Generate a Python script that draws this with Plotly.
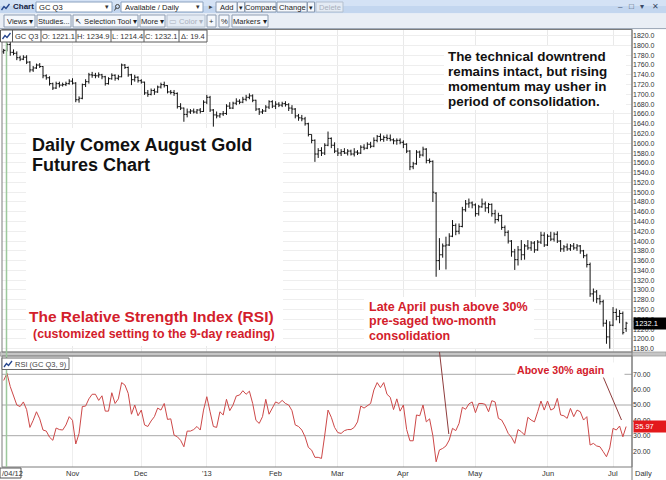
import plotly.graph_objects as go

W, H = 666, 480
FONT = "Liberation Sans, Arial, sans-serif"

# ---------------- data ----------------
opens = [1787,1790,1802,1786,1784,1775,1772,1776,1766,1750,
         1754,1760,1757,1738,1734,1722,1713,1722,1719,1720,
         1722,1727,1723,1689,1692,1720,1726,1740,1739,1738,
         1740,1736,1722,1732,1739,1733,1736,1760,1755,1740,
         1730,1735,1728,1725,1703,1700,1708,1705,1715,1720,
         1718,1705,1704,1702,1675,1672,1659,1664,1666,1664,
         1668,1665,1684,1694,1668,1658,1656,1660,1661,1676,
         1672,1682,1686,1684,1690,1694,1697,1688,1670,1664,
         1666,1674,1685,1676,1680,1678,1681,1679,1672,1670,
         1656,1652,1650,1640,1618,1606,1578,1585,1580,1596,
         1610,1596,1584,1580,1583,1580,1584,1578,1582,1580,
         1592,1590,1598,1594,1606,1614,1608,1612,1610,1607,
         1605,1606,1602,1598,1584,1552,1558,1582,1576,1588,
         1565,1563,1498,1360,1372,1390,1392,1410,1432,1420,
         1430,1464,1476,1478,1474,1456,1470,1476,1468,1475,
         1456,1444,1452,1428,1418,1400,1378,1362,1382,1372,
         1390,1386,1396,1382,1398,1412,1392,1410,1404,1414,
         1400,1384,1388,1384,1390,1386,1390,1380,1370,1352,
         1292,1296,1282,1276,1232,1204,1228,1254,1246,1252,
         1221.1]
highs = [1793,1806,1808,1792,1788,1779,1780,1780,1768,1758,
         1763,1764,1758,1741,1737,1724,1726,1726,1724,1726,
         1731,1733,1725,1696,1722,1731,1744,1746,1744,1745,
         1742,1738,1735,1743,1741,1740,1763,1762,1757,1742,
         1740,1737,1731,1726,1709,1712,1712,1718,1724,1726,
         1719,1709,1709,1704,1682,1673,1671,1670,1671,1670,
         1672,1688,1699,1697,1670,1665,1662,1666,1680,1684,
         1685,1692,1690,1695,1699,1702,1700,1689,1672,1670,
         1678,1688,1688,1686,1684,1685,1686,1682,1678,1672,
         1660,1658,1654,1642,1618,1608,1590,1592,1600,1624,
         1612,1602,1590,1588,1590,1588,1587,1590,1586,1596,
         1598,1602,1603,1612,1617,1620,1616,1618,1618,1610,
         1610,1610,1606,1600,1586,1562,1586,1585,1593,1590,
         1569,1565,1500,1406,1395,1409,1416,1443,1436,1436,
         1470,1484,1487,1481,1477,1474,1487,1481,1478,1477,
         1464,1458,1454,1432,1422,1402,1384,1390,1402,1394,
         1402,1400,1400,1402,1419,1418,1414,1419,1418,1420,
         1402,1392,1395,1394,1396,1394,1392,1382,1374,1356,
         1303,1300,1290,1280,1239,1236,1265,1262,1259,1256,
         1234.9]
lows = [1783,1788,1779,1780,1770,1768,1770,1762,1745,1746,
        1752,1754,1733,1730,1718,1709,1711,1714,1716,1717,
        1720,1720,1684,1683,1690,1715,1722,1734,1733,1734,
        1731,1718,1720,1730,1728,1729,1735,1752,1736,1719,
        1726,1724,1722,1699,1695,1698,1699,1703,1712,1714,
        1702,1700,1697,1671,1668,1644,1653,1660,1661,1660,
        1661,1664,1680,1664,1634,1651,1652,1656,1658,1670,
        1670,1678,1680,1682,1686,1690,1684,1666,1658,1660,
        1664,1670,1672,1670,1674,1674,1675,1666,1660,1651,
        1646,1645,1636,1614,1600,1562,1570,1574,1576,1594,
        1590,1580,1574,1574,1578,1575,1575,1573,1576,1578,
        1586,1588,1590,1592,1602,1604,1603,1605,1604,1598,
        1597,1598,1590,1580,1545,1547,1556,1570,1573,1559,
        1559,1480,1327,1341,1366,1342,1390,1408,1412,1414,
        1428,1460,1468,1467,1450,1452,1468,1460,1457,1450,
        1436,1440,1423,1410,1395,1368,1341,1350,1361,1362,
        1382,1380,1376,1380,1394,1388,1390,1400,1399,1396,
        1378,1378,1380,1380,1382,1380,1374,1365,1346,1286,
        1276,1273,1270,1225,1190,1180,1226,1238,1232,1209,
        1214.4]
closes = [1790,1802,1786,1784,1775,1772,1776,1766,1750,1754,
          1760,1757,1738,1734,1722,1713,1722,1719,1720,1722,
          1727,1723,1689,1692,1720,1726,1740,1739,1738,1740,
          1736,1722,1732,1739,1733,1736,1760,1755,1740,1730,
          1735,1728,1725,1703,1700,1708,1705,1715,1720,1718,
          1705,1704,1702,1675,1672,1659,1664,1666,1664,1668,
          1665,1684,1694,1668,1658,1656,1660,1661,1676,1672,
          1682,1686,1684,1690,1694,1697,1688,1670,1664,1666,
          1674,1685,1676,1680,1678,1681,1679,1672,1670,1656,
          1652,1650,1640,1618,1606,1578,1585,1580,1596,1610,
          1596,1584,1580,1583,1580,1584,1578,1582,1580,1592,
          1590,1598,1594,1606,1614,1608,1612,1610,1607,1605,
          1606,1602,1598,1584,1552,1558,1582,1576,1588,1565,
          1563,1500,1360,1372,1390,1392,1410,1432,1420,1430,
          1464,1476,1478,1474,1456,1470,1476,1468,1475,1456,
          1444,1452,1428,1418,1400,1378,1362,1382,1372,1390,
          1386,1396,1382,1398,1412,1392,1410,1404,1414,1400,
          1384,1388,1384,1390,1386,1390,1380,1370,1352,1292,
          1296,1282,1276,1232,1204,1228,1254,1246,1252,1212.7,
          1232.1]
rsi = [66,70.6,62,56.5,50,49,52,47,35.4,40,
       45.6,41,33.7,33,29,27,35,34,33.7,37,
       42.4,40,24.6,31.5,49,49.3,54,57,57,53,
       56,46,46,58,51,54,64.6,63,57.6,44,
       50,43,46.7,37,36,39.6,42.4,48,46.7,51,
       40.6,41,30.4,29.3,27,22.8,33,33,34,36,
       33.7,46.7,55.4,45.6,36,35.4,45.6,43.5,53.7,46.3,
       50,55.9,56.5,59.3,57,59,51,40,38,42.4,
       53.7,44,48.5,52,51,53,51,50,46.3,37,
       36,33.7,29.3,22.4,20.6,15.9,15.9,15.2,30.4,46.7,
       42,35.4,32,31.5,33.3,34,34,35.4,39,49.3,
       48,49.3,51,59.8,64.6,61.3,64.6,57,55,47,
       54,46,50,34,26.7,26.7,43.5,43,50,39,
       41,30,13,20.7,21.7,23.3,27.2,34.8,33.3,38,
       48.5,47.2,50.7,52,45,51,51,50.4,45.6,52.8,
       52,41.3,40.2,36.3,31.5,29,25,34,32.6,30.4,
       42,40.2,39,45.6,52.6,46.7,52.6,46.7,47.8,54.3,
       43.5,43,41.3,47.8,42.4,46.7,45.6,40.2,42.4,23.9,
       25,23.3,22.8,19.6,16.3,22,34.8,33.7,36.3,29.3,
       35.97]

month_idx = [21, 42, 62, 83, 102, 122, 144, 166, 186]
month_lbl = ["Nov", "Dec", "'13", "Feb", "Mar", "Apr", "May", "Jun", "Jul"]
price_ticks = [1180, 1200, 1220, 1240, 1260, 1280, 1300, 1320, 1340, 1360, 1380,
               1400, 1420, 1440, 1460, 1480, 1500, 1520, 1540, 1560, 1580, 1600,
               1620, 1640, 1660, 1680, 1700, 1720, 1740, 1760, 1780, 1800, 1820]
rsi_ticks = [20, 30, 40, 50, 60, 70]
rsi_levels = [30, 50, 70]

n = len(closes)
assert len(opens) == n and len(highs) == n and len(lows) == n and len(rsi) == n
xs = list(range(n))

# ---------------- pixel helpers (layout only) ----------------
def xp(p):
    return p / W

def yp(p):
    return 1 - p / H

X0, DX = 3.7, 3.276          # bar 0 pixel, pixels per bar
def ix(p):
    return (p - X0) / DX

def pr(p):
    return 1820 - (p - 35.7) * 2.045

X_LO, X_HI = ix(2), ix(632)
P_LO, P_HI = pr(352), pr(29.5)
R_LO = 70 - (467 - 374.3) / 1.535
R_HI = 70 + (374.3 - 356) / 1.535

shapes, annos = [], []

def rect(x0, y0, x1, y1, fill=None, line=None, lw=1, layer='above'):
    shapes.append(dict(type='rect', xref='paper', yref='paper',
                       x0=xp(x0), x1=xp(x1), y0=yp(y1), y1=yp(y0),
                       fillcolor=fill or 'rgba(0,0,0,0)',
                       line=dict(color=line or 'rgba(0,0,0,0)', width=lw if line else 0),
                       layer=layer))

def seg(x0, y0, x1, y1, color, lw=1):
    shapes.append(dict(type='line', xref='paper', yref='paper',
                       x0=xp(x0), y0=yp(y0), x1=xp(x1), y1=yp(y1),
                       line=dict(color=color, width=lw), layer='above'))

def path(pts, color, lw=1):
    d = 'M ' + ' L '.join(f'{xp(a):.5f},{yp(b):.5f}' for a, b in pts)
    shapes.append(dict(type='path', xref='paper', yref='paper', path=d,
                       line=dict(color=color, width=lw), layer='above'))

def text(x, y, s, size=8, color='#222', anchor='left', bold=False, bg=None, width=None, pad=0):
    a = dict(xref='paper', yref='paper', x=xp(x), y=yp(y),
             text=f'<b>{s}</b>' if bold else s, showarrow=False,
             xanchor=anchor, yanchor='middle', align='left', borderpad=pad,
             font=dict(size=size, color=color, family=FONT))
    if bg:
        a['bgcolor'] = bg
    if width:
        a['width'] = width
    annos.append(a)

def button(x0, x1, y0, y1, label, color='#1e1e1e', fill='#f5f8fc', line='#8d9cb1', size=7.6):
    rect(x0, y0, x1, y1, fill=fill, line=line)
    text((x0 + x1) / 2, (y0 + y1) / 2 + 0.3, label, size=size, color=color, anchor='center')

def icon(x, y):
    path([(x, y + 6), (x + 2.5, y + 2.5), (x + 4.5, y + 4.5), (x + 8, y)], '#24448c', 1.3)

# ---------------- toolbar ----------------
rect(0, 0, 666, 13.5, fill='#c3d6ef')
rect(0, 0, 666, 6, fill='#d4e2f5')
icon(1.5, 4)
text(12, 7, 'Chart', size=8, bold=True, color='#14213d')
rect(36, 2, 112, 12, fill='white', line='#8aa1bf')
text(38, 7.3, 'GC Q3', size=7.6)
text(107, 7, '▾', size=7, anchor='center', color='#333')
shapes.append(dict(type='circle', xref='paper', yref='paper', x0=xp(115.5), x1=xp(119.5),
                   y0=yp(8.5), y1=yp(4.5), line=dict(color='#444', width=1)))
seg(116, 8, 114.5, 10.5, '#444')
rect(121, 2, 203, 12, fill='white', line='#8aa1bf')
text(123.5, 7.3, 'Available / Daily', size=7.6)
text(198, 7, '▾', size=7, anchor='center', color='#333')
text(210.5, 7, '▸', size=7, anchor='center', color='#444')
button(216, 237, 2, 12, 'Add')
button(237.5, 244.5, 2, 12, '▾', size=7)
button(245, 276, 2, 12, 'Compare')
button(277, 307, 2, 12, 'Change')
button(307.5, 314.5, 2, 12, '▾', size=7)
button(316, 343, 2, 12, 'Delete', color='#a9b0bc', fill='#e4ebf4', line='#b3bfcf')
text(620, 7, '–', size=8, anchor='center', color='#3a4a66')
text(631.5, 7, '□', size=8, anchor='center', color='#3a4a66')
text(642, 7, '▾', size=8, anchor='center', color='#3a4a66')
text(655, 7, '✕', size=8, anchor='center', color='#3a4a66')

rect(0, 13.5, 666, 28.5, fill='#e9eef5')
seg(0, 28.6, 666, 28.6, '#98a3b3')
button(4, 35, 15, 27, 'Views ▾')
button(37, 71, 15, 27, 'Studies...')
button(73, 138, 15, 27, '↖ Selection Tool ▾')
button(140, 165, 15, 27, 'More ▾')
button(167, 205, 15, 27, '▭ Color ▾', color='#a9b0bc', fill='#e4ebf4', line='#b3bfcf')
button(207, 216, 15, 27, '+')
button(219, 229, 15, 27, '%')
button(232, 268, 15, 27, 'Markers ▾')

# ---------------- panels ----------------
rect(0, 352, 666, 356, fill='#c6c6c6', line='#9c9c9c', lw=0.8)
rect(2, 29.5, 632, 352, line='#7c7c7c')
rect(2, 356, 632, 467, line='#7c7c7c')
seg(632, 29.5, 632, 480, '#7c7c7c')
seg(6.5, 30, 6.5, 467, '#9cc89c', 1.5)

# white text backgrounds hiding grid (between grid and bars)
for (a, b, c, d) in [(444, 46, 626, 110), (26, 128, 283, 346), (364, 297, 534, 348)]:
    shapes.append(dict(type='rect', xref='x', yref='y', x0=ix(a), x1=ix(c),
                       y0=pr(d), y1=pr(b), fillcolor='white', line=dict(width=0),
                       layer='between'))
for lv in rsi_levels:
    shapes.append(dict(type='line', xref='x2', yref='y2', x0=X_LO, x1=X_HI, y0=lv, y1=lv,
                       line=dict(color='#a8a8a8', width=1), layer='between'))

# legend rows
rect(0.5, 30, 207, 42, fill='white', line='#5a5a5a')
for sx in [12.5, 41, 76, 111, 144, 179]:
    seg(sx, 30, sx, 42, '#5a5a5a')
icon(2.5, 33)
legend_cells = [(26.8, 'GC Q3'), (58.5, f'O: {opens[-1]:.1f}'), (93.5, f'H: {highs[-1]:.1f}'),
                (127.5, f'L: {lows[-1]:.1f}'), (161.5, f'C: {closes[-1]:.1f}'),
                (193, f'Δ: {closes[-1] - closes[-2]:.1f}')]
for cx, s in legend_cells:
    text(cx, 36.3, s, size=7.5, color='#333', anchor='center')

rect(2, 358, 69, 369.5, fill='white', line='#6a6a6a')
icon(4, 361)
text(14, 364, 'RSI (GC Q3, 9)', size=7.5, color='#444')

rect(0, 468, 21, 478, fill='white', line='#555')
text(0.8, 473.2, '/04/12', size=7.5, color='#333', anchor='left')
text(633.5, 473.2, 'Daily', size=7.5, color='#333')

# ---------------- commentary ----------------
for i, s in enumerate(['The technical downtrend', 'remains intact, but rising',
                       'momentum may usher in', 'period of consolidation.']):
    text(447, 56 + i * 15.2, s, size=13.4, bold=True, color='#111')
text(31, 144.5, 'Daily Comex August Gold', size=18, bold=True, color='#111')
text(31, 165, 'Futures Chart', size=18, bold=True, color='#111')
RED = '#d3202b'
text(27.5, 316, 'The Relative Strength Index (RSI)', size=15.5, bold=True, color=RED)
text(32, 334, '(customized setting to the 9-day reading)', size=12.4, bold=True, color=RED)
for i, s in enumerate(['Late April push above 30%', 'pre-saged two-month', 'consolidation']):
    text(367.5, 307 + i * 14.3, s, size=12.5, bold=True, color=RED)
text(515, 370, 'Above 30% again', size=10.6, bold=True, color=RED, bg='white', width=106, pad=1)
seg(439.5, 352, 448.8, 434, '#8e3c3c')
seg(603, 376.5, 621.5, 420, '#8e3c3c')

# month labels under the RSI panel
for mi, ml in zip(month_idx, month_lbl):
    annos.append(dict(xref='x2', yref='paper', x=mi, y=yp(473.2), text=ml, showarrow=False,
                      xanchor='center', yanchor='middle',
                      font=dict(size=7.5, color='#333', family=FONT)))

# current value boxes
annos.append(dict(xref='paper', yref='y', x=xp(632.5), y=closes[-1], xanchor='left', yanchor='middle',
                  text=f'{closes[-1]:.1f}', showarrow=False, bgcolor='black', width=31, borderpad=1,
                  align='left', font=dict(size=7.5, color='white', family=FONT)))
annos.append(dict(xref='paper', yref='y2', x=xp(632.5), y=rsi[-1], xanchor='left', yanchor='middle',
                  text=f'{rsi[-1]:.2f}', showarrow=False, bgcolor='#e3191c', width=31, borderpad=1,
                  align='left', font=dict(size=7.5, color='white', family=FONT)))

# ---------------- traces ----------------
fig = go.Figure()
fig.add_trace(go.Ohlc(x=xs, open=opens, high=highs, low=lows, close=closes,
                      increasing=dict(line=dict(color='#111111', width=1)),
                      decreasing=dict(line=dict(color='#111111', width=1)),
                      tickwidth=0.45, xaxis='x', yaxis='y', hoverinfo='skip'))
fig.add_trace(go.Scatter(x=xs, y=rsi, mode='lines', line=dict(color='#cd4848', width=1),
                         xaxis='x2', yaxis='y2', hoverinfo='skip'))

tick_font = dict(size=7, color='#333', family=FONT)
fig.update_layout(
    width=W, height=H, margin=dict(l=0, r=0, t=0, b=0),
    paper_bgcolor='white', plot_bgcolor='white', showlegend=False,
    font=dict(family=FONT),
    xaxis=dict(domain=[xp(2), xp(632)], range=[X_LO, X_HI], anchor='y',
               tickvals=month_idx, showticklabels=False, ticks='',
               showgrid=True, gridcolor='#e9e9e9', zeroline=False, showline=False,
               rangeslider=dict(visible=False), fixedrange=True),
    yaxis=dict(domain=[yp(352), yp(29.5)], range=[P_LO, P_HI], anchor='x', side='right',
               tickvals=price_ticks, tickformat='.1f', tickfont=tick_font, ticks='',
               showgrid=True, gridcolor='#eeeeee', zeroline=False, showline=False, fixedrange=True),
    xaxis2=dict(domain=[xp(2), xp(632)], range=[X_LO, X_HI], anchor='y2',
                tickvals=month_idx, showticklabels=False,
                ticks='', showgrid=True, gridcolor='#eeeeee', zeroline=False, showline=False, fixedrange=True),
    yaxis2=dict(domain=[yp(467), yp(356)], range=[R_LO, R_HI], anchor='x2', side='right',
                tickvals=rsi_ticks, tickformat='.2f', tickfont=tick_font, ticks='',
                showgrid=False, zeroline=False, showline=False, fixedrange=True),
    shapes=shapes, annotations=annos,
)

fig.write_html("out.html", config={'displayModeBar': False},
               post_script="document.body.style.margin='0';document.body.style.padding='0';")
